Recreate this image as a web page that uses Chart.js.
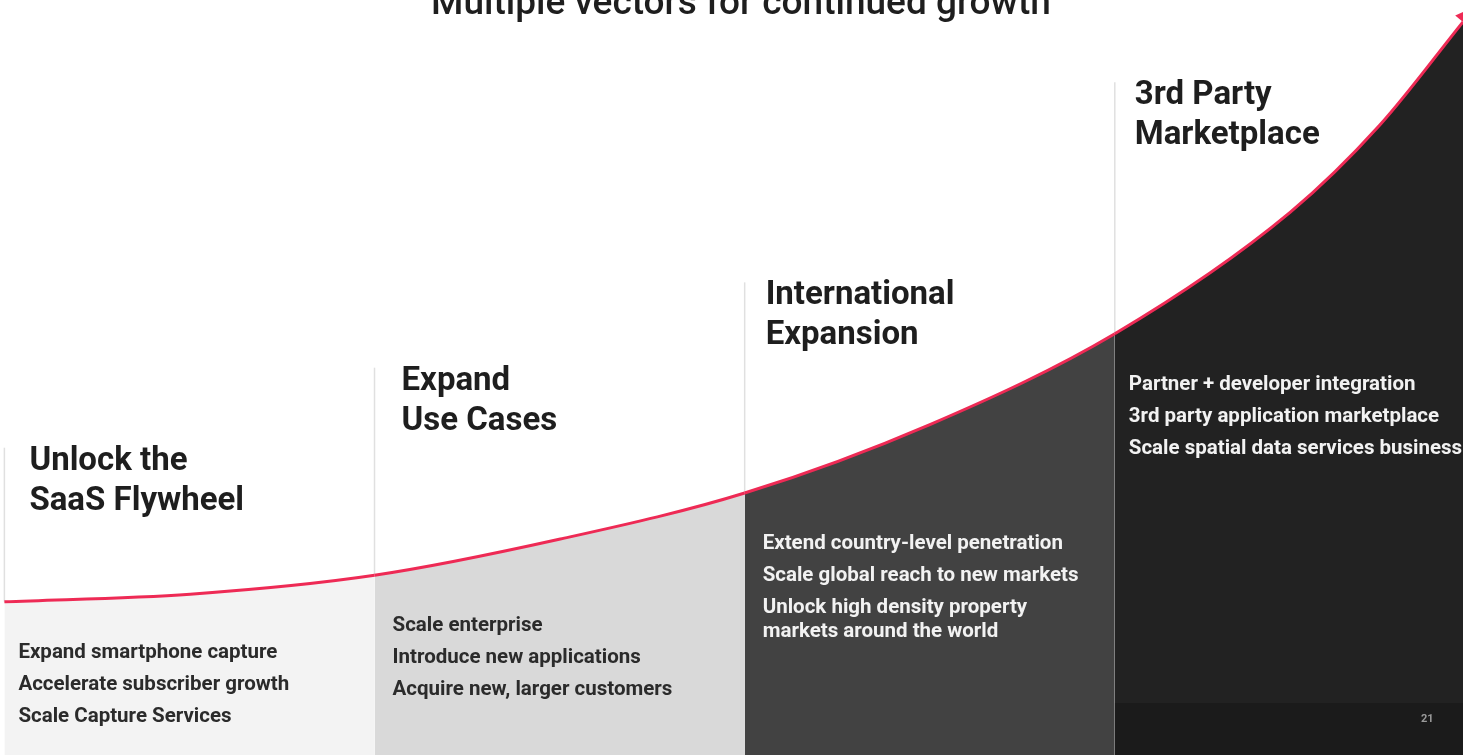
<!DOCTYPE html>
<html>
<head>
<meta charset="utf-8">
<script src="https://cdn.jsdelivr.net/npm/chart.js@4.4.0/dist/chart.umd.min.js"></script>
<style>
  html, body { margin: 0; padding: 0; background: #fff; overflow: hidden; }
  #myChart { display: block; }
</style>
</head>
<body>
<canvas id="myChart" width="1478" height="755"></canvas>
<script>
var chartTitle = 'Multiple vectors for continued growth';

var stageNames = [
	['Unlock the', 'SaaS Flywheel'],
	['Expand', 'Use Cases'],
	['International', 'Expansion'],
	['3rd Party', 'Marketplace']
];

// each bullet is a list of its wrapped lines
var stageBullets = [
	[['Expand smartphone capture'], ['Accelerate subscriber growth'], ['Scale Capture Services']],
	[['Scale enterprise'], ['Introduce new applications'], ['Acquire new, larger customers']],
	[['Extend country-level penetration'], ['Scale global reach to new markets'], ['Unlock high density property', 'markets around the world']],
	[['Partner + developer integration'], ['3rd party application marketplace'], ['Scale spatial data services business']]
];

// where each stage starts along the progress axis (0-100)
var stageStarts = [0.3, 25.6, 50.9, 76.2];
var stageEnd = 100;

// the growth curve
var growthX = [0.3, 13.0, 25.6, 38.3, 50.9, 63.6, 76.2, 88.2, 94.3, 100];
var growthY = [20.3, 21.3, 23.8, 28.6, 34.7, 43.8, 55.8, 71.9, 83.4, 97.1];

// how high the thin divider above each stage goes
var dividerTops = [40.7, 51.3, 62.6, 89.1];
var footerLevel = 6.9;
var pageNumber = '21';

var stageColors = ['#f3f3f3', '#d9d9d9', '#424242', '#222222'];
var textColors = ['#2b2b2b', '#2b2b2b', '#f2f2f2', '#f2f2f2'];
var titleOffsets = [25, 27, 21, 20];
var bulletOffsets = [14, 18, 18, 14];
var lineRed = '#ee2a55';

function stageOf(x) {
	var s = 0;
	for (var i = 0; i < stageStarts.length; i++) {
		if (x >= stageStarts[i] - 1e-6) s = i;
	}
	return s;
}

function curveAt(x) {
	return growthY[growthX.indexOf(x)];
}

var curvePoints = [];
for (var i = 0; i < growthX.length; i++) {
	curvePoints.push({x: growthX[i], y: growthY[i]});
}

var datasets = [{
	label: 'growth',
	data: curvePoints,
	borderColor: lineRed,
	borderWidth: 3,
	pointRadius: 0,
	cubicInterpolationMode: 'monotone',
	fill: 'origin',
	backgroundColor: stageColors[0],
	segment: {
		backgroundColor: function(c) { return stageColors[stageOf(c.p0.parsed.x)]; }
	},
	order: 1
}, {
	label: 'footer',
	data: [{x: stageStarts[3], y: footerLevel}, {x: stageEnd, y: footerLevel}],
	borderWidth: 0,
	pointRadius: 0,
	fill: 'origin',
	backgroundColor: '#1b1b1b',
	order: -1
}];

for (var j = 0; j < stageStarts.length; j++) {
	datasets.push({
		label: 'divider' + j,
		data: [{x: stageStarts[j], y: curveAt(stageStarts[j])}, {x: stageStarts[j], y: dividerTops[j]}],
		borderColor: '#e0e0e0',
		borderWidth: 1.5,
		pointRadius: 0,
		fill: false,
		order: 2
	});
}

var arrowPlugin = {
	id: 'arrowHead',
	afterDatasetsDraw: function(chart) {
		var meta = chart.getDatasetMeta(0);
		var pts = meta.data;
		var a = pts[pts.length - 2], b = pts[pts.length - 1];
		var dx = b.x - a.x, dy = b.y - a.y;
		var len = Math.sqrt(dx * dx + dy * dy);
		dx /= len; dy /= len;
		var ctx = chart.ctx, area = chart.chartArea;
		ctx.save();
		ctx.beginPath();
		ctx.rect(area.left, area.top, area.right - area.left, area.bottom - area.top);
		ctx.clip();
		ctx.fillStyle = lineRed;
		ctx.beginPath();
		ctx.moveTo(b.x + dx * 20, b.y + dy * 20);
		ctx.lineTo(b.x - dy * 10, b.y + dx * 10);
		ctx.lineTo(b.x + dy * 10, b.y - dx * 10);
		ctx.closePath();
		ctx.fill();
		ctx.restore();
	}
};

var textPlugin = {
	id: 'slideText',
	afterDraw: function(chart) {
		var ctx = chart.ctx, xs = chart.scales.x, ys = chart.scales.y;
		ctx.save();
		ctx.textBaseline = 'alphabetic';
		ctx.textAlign = 'center';
		ctx.fillStyle = '#1e1e1e';
		ctx.font = '500 37px Roboto';
		ctx.fillText(chartTitle, chart.width / 2 + 2, 14);
		ctx.textAlign = 'left';
		for (var i = 0; i < stageNames.length; i++) {
			var x0 = xs.getPixelForValue(stageStarts[i]);
			var top = ys.getPixelForValue(dividerTops[i]);
			ctx.font = 'bold 33px Roboto';
			ctx.fillStyle = '#1e1e1e';
			for (var k = 0; k < stageNames[i].length; k++) {
				ctx.fillText(stageNames[i][k], x0 + titleOffsets[i], top + 22 + k * 40);
			}
			var y = ys.getPixelForValue(curveAt(stageStarts[i])) + 56;
			ctx.font = 'bold 20.5px Roboto';
			ctx.fillStyle = textColors[i];
			stageBullets[i].forEach(function(lines) {
				lines.forEach(function(t) {
					ctx.fillText(t, x0 + bulletOffsets[i], y);
					y += 24;
				});
				y += 8;
			});
		}
		ctx.font = 'bold 11px Roboto';
		ctx.fillStyle = '#9a9a9a';
		ctx.fillText(pageNumber, xs.getPixelForValue(stageEnd) - 42, 722);
		ctx.restore();
	}
};

window.onload = function() {
	var ctx = document.getElementById('myChart').getContext('2d');
	var chart = new Chart(ctx, {
		type: 'line',
		data: { datasets: datasets },
		options: {
			responsive: false,
			animation: false,
			layout: { padding: { left: 0, right: 15, top: 0, bottom: 0 } },
			scales: {
				x: { type: 'linear', min: 0, max: 100, display: false },
				y: { type: 'linear', min: 0, max: 100, display: false }
			},
			plugins: {
				legend: { display: false },
				tooltip: { enabled: false }
			}
		},
		plugins: [arrowPlugin, textPlugin]
	});
};
</script>
</body>
</html>
